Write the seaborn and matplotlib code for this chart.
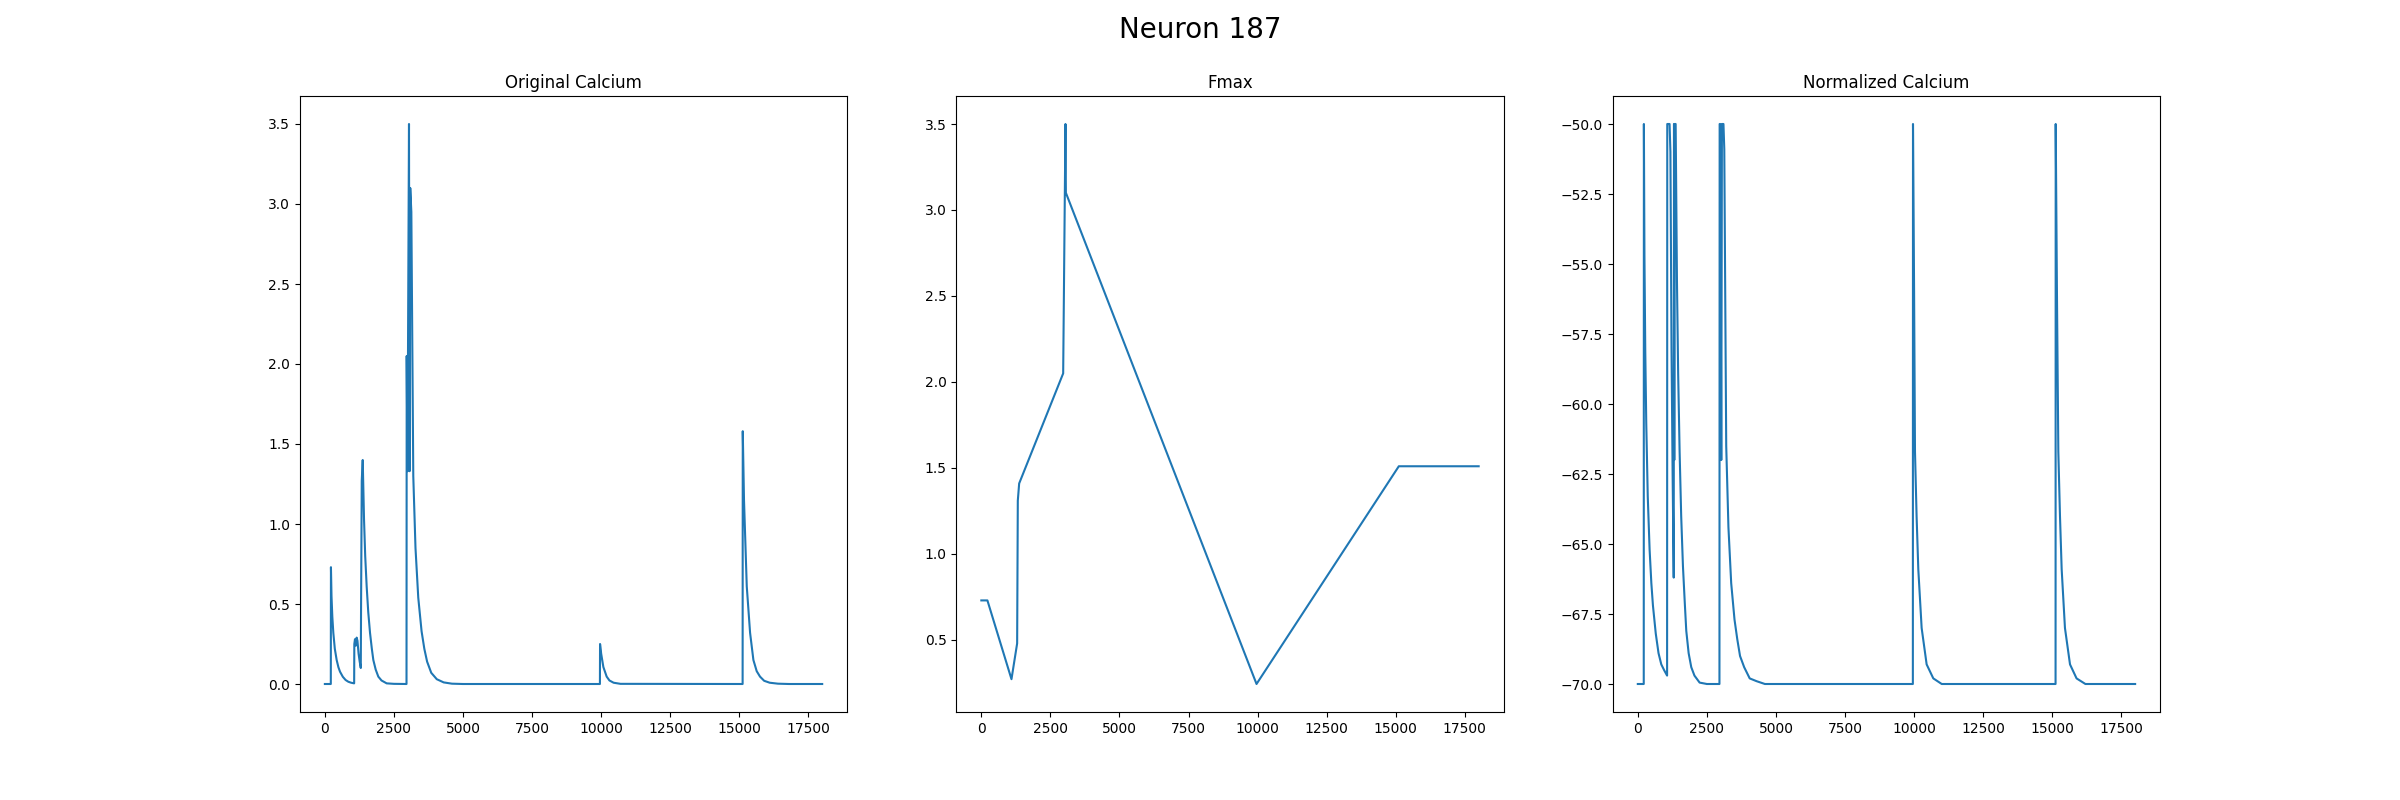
import matplotlib
matplotlib.use("Agg")
import matplotlib.pyplot as plt
import seaborn as sns
import numpy as np

neuron_id = 187

# Original calcium trace (frame, value)
calcium_frames = [0, 215, 220, 240, 270, 306, 360, 427, 490, 548, 650, 750, 850, 950, 1060,
                  1066, 1090, 1120, 1150, 1180, 1220, 1260, 1300,
                  1310, 1335, 1370, 1417, 1460, 1513, 1570, 1634, 1700, 1754, 1840, 1935, 2050, 2237, 2500,
                  2955, 2962, 2990, 3045, 3065, 3090, 3130, 3170, 3200, 3280, 3380, 3500, 3600, 3700,
                  3850, 4050, 4300, 4600, 5000,
                  9955, 9960, 10000, 10080, 10200, 10300, 10450, 10700,
                  15120, 15125, 15170, 15270, 15390, 15510, 15630, 15750, 15900, 16100, 16400, 16800, 18000]
calcium = [0.0, 0.0, 0.73, 0.55, 0.42, 0.32, 0.22, 0.15, 0.105, 0.077, 0.045, 0.025, 0.014, 0.008, 0.004,
           0.25, 0.28, 0.24, 0.29, 0.27, 0.19, 0.14, 0.10,
           0.48, 1.27, 1.40, 1.03, 0.80, 0.61, 0.45, 0.32, 0.22, 0.15, 0.09, 0.046, 0.022, 0.004, 0.001,
           0.0, 2.05, 1.33, 3.5, 1.33, 3.1, 2.95, 2.0, 1.3, 0.85, 0.54, 0.33, 0.22, 0.14,
           0.07, 0.03, 0.01, 0.002, 0.0,
           0.0, 0.25, 0.19, 0.106, 0.046, 0.022, 0.008, 0.001,
           0.0, 1.58, 1.15, 0.61, 0.32, 0.15, 0.08, 0.046, 0.02, 0.008, 0.002, 0.0, 0.0]

# Fmax envelope
fmax_frames = [0, 220, 1091, 1296, 1320, 1369, 2962, 3045, 3060, 9960, 15110, 18000]
fmax = [0.73, 0.73, 0.272, 0.48, 1.31, 1.41, 2.05, 3.5, 3.1, 0.244, 1.51, 1.51]

# Normalized calcium
norm_frames = [0, 215, 220, 240, 270, 306, 360, 427, 490, 548, 650, 750, 850, 950, 1060,
               1066, 1100, 1150, 1180, 1220, 1260, 1300,
               1310, 1320, 1335, 1370, 1417, 1460, 1513, 1570, 1634, 1700, 1754, 1840, 1935, 2050, 2237, 2500,
               2955, 2962, 2985, 3021, 3045, 3100, 3130, 3170, 3200, 3280, 3380, 3500, 3600, 3700,
               3850, 4050, 4300, 4600,
               9955, 9960, 10000, 10032, 10090, 10152, 10273, 10454, 10695, 11000,
               15120, 15125, 15170, 15220, 15280, 15341, 15460, 15643, 15880, 16200, 18000]
norm_calcium = [-70.0, -70.0, -50.0, -54.7, -58.1, -60.7, -63.3, -65.2, -66.4, -67.2, -68.2, -68.9, -69.3, -69.5, -69.7,
                -50.0, -50.0, -50.0, -51.0, -58.0, -62.5, -66.2,
                -50.0, -62.0, -50.0, -50.0, -55.6, -58.9, -61.7, -64.0, -65.8, -67.1, -68.1, -68.9, -69.4, -69.7, -69.95, -70.0,
                -70.0, -50.0, -50.0, -62.0, -50.0, -50.0, -50.9, -57.0, -61.5, -64.4, -66.4, -67.7, -68.4, -69.0,
                -69.4, -69.8, -69.9, -70.0,
                -70.0, -50.0, -56.0, -61.7, -64.0, -65.9, -68.0, -69.3, -69.8, -70.0,
                -70.0, -50.0, -56.0, -61.7, -64.0, -65.9, -68.0, -69.3, -69.8, -70.0, -70.0]

panels = [
    ("Original Calcium", calcium_frames, calcium),
    ("Fmax", fmax_frames, fmax),
    ("Normalized Calcium", norm_frames, norm_calcium),
]

fig, axs = plt.subplots(1, 3, figsize=(24, 8))
for ax, (title, xs, ys) in zip(axs, panels):
    sns.lineplot(x=np.array(xs), y=np.array(ys), ax=ax, estimator=None, sort=False)
    ax.set_title(title)

fig.suptitle("Neuron %d" % neuron_id, fontsize=20)
fig.savefig("out.png", dpi=100)
